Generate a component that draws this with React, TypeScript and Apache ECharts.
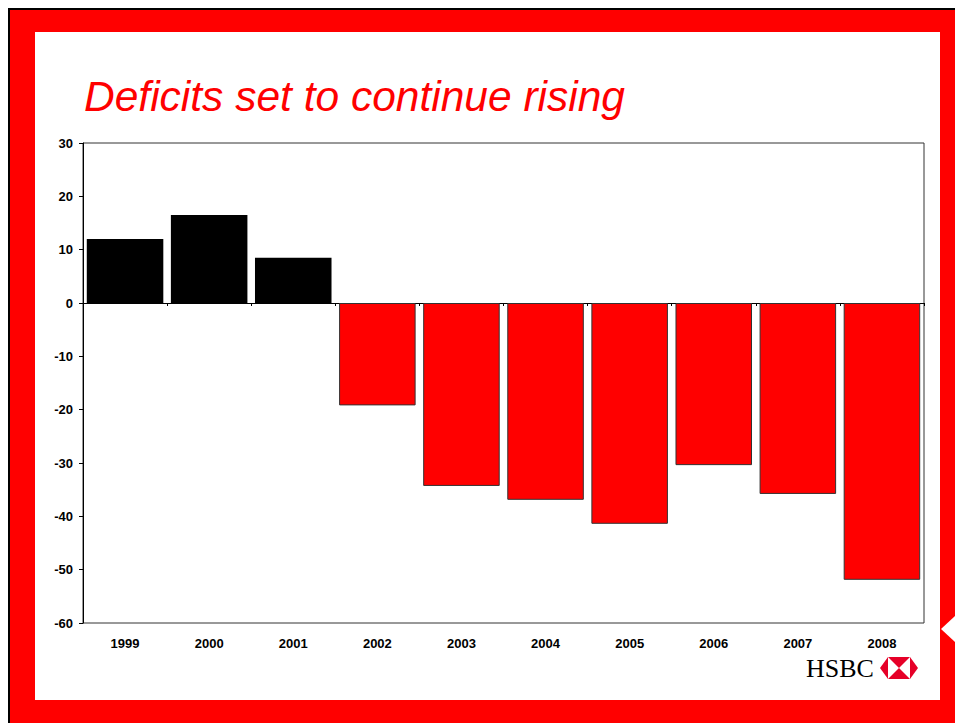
import React, { useEffect, useRef } from "react";
import * as echarts from "echarts";

const years = ["1999", "2000", "2001", "2002", "2003", "2004", "2005", "2006", "2007", "2008"];
const balance = [12.0, 16.5, 8.5, -19.2, -34.3, -36.9, -41.4, -30.4, -35.8, -51.9];
const yMin = -60;
const yMax = 30;
const yStep = 10;
const titleText = "Deficits set to continue rising";
const brandText = "HSBC";

const FONT = "'Liberation Sans', Arial, Helvetica, sans-serif";
const RED = "#ff0000";

export default function App() {
  const ref = useRef<HTMLDivElement>(null);
  useEffect(() => {
    if (!ref.current) return;
    const chart = echarts.init(ref.current, undefined, { renderer: "svg" });
    // HSBC hexagon geometry
    const hx = 880, hy = 657, hw = 38, hh = 22, tip = 8;
    const sqL = hx + tip, sqR = hx + hw - tip, cy = hy + hh / 2, cx = hx + hw / 2;
    const logoRed = "#e60028";
    chart.setOption({
      animation: false,
      backgroundColor: "#ffffff",
      grid: {
        left: 83,
        top: 143,
        right: 31,
        bottom: 100,
        show: true,
        borderColor: "#333333",
        borderWidth: 1,
        backgroundColor: "transparent",
        containLabel: false,
      },
      xAxis: [
        {
          type: "category",
          data: years,
          position: "bottom",
          axisLine: { show: false, onZero: false },
          axisTick: { show: false },
          axisLabel: {
            color: "#000",
            fontWeight: "bold",
            fontSize: 13,
            fontFamily: FONT,
            margin: 14,
          },
          splitLine: { show: false },
        },
        {
          type: "category",
          data: years,
          position: "bottom",
          axisLine: { show: true, onZero: true, lineStyle: { color: "#000", width: 1 } },
          axisTick: { show: true, length: 3, lineStyle: { color: "#000" } },
          axisLabel: { show: false },
          splitLine: { show: false },
        },
      ],
      yAxis: {
        type: "value",
        min: yMin,
        max: yMax,
        interval: yStep,
        axisLine: { show: true, lineStyle: { color: "#000", width: 1 } },
        axisTick: { show: true, length: 4, lineStyle: { color: "#000" } },
        axisLabel: {
          color: "#000",
          fontWeight: "bold",
          fontSize: 13,
          fontFamily: FONT,
          margin: 10,
        },
        splitLine: { show: false },
      },
      series: [
        {
          type: "bar",
          xAxisIndex: 0,
          barCategoryGap: "9%",
          data: balance.map((v) => ({
            value: v,
            itemStyle:
              v >= 0
                ? { color: "#000000", borderWidth: 0 }
                : { color: RED, borderColor: "#333333", borderWidth: 1 },
          })),
          z: 2,
        },
      ],
      graphic: {
        elements: [
          { type: "rect", z: -30, shape: { x: 8, y: 8, width: 947, height: 715 }, style: { fill: "#000" }, silent: true },
          { type: "rect", z: -29, shape: { x: 10, y: 10, width: 945, height: 713 }, style: { fill: RED }, silent: true },
          { type: "rect", z: -28, shape: { x: 35, y: 32, width: 905, height: 668 }, style: { fill: "#fff" }, silent: true },
          {
            type: "polygon",
            z: -27,
            shape: { points: [[941, 629], [955, 616], [955, 642]] },
            style: { fill: "#fff" },
            silent: true,
          },
          {
            type: "text",
            z: 10,
            x: 84,
            y: 96,
            style: {
              text: titleText,
              fill: RED,
              fontSize: 42.5,
              fontStyle: "italic",
              fontFamily: FONT,
              verticalAlign: "middle",
              align: "left",
            },
          },
          {
            type: "text",
            z: 10,
            x: 806,
            y: 668,
            style: {
              text: brandText,
              fill: "#000",
              fontSize: 26,
              fontFamily: "'Liberation Serif', 'Times New Roman', serif",
              verticalAlign: "middle",
              align: "left",
            },
          },
          // hexagon: red outer tips
          { type: "polygon", z: 10, shape: { points: [[hx, cy], [sqL, hy], [sqL, hy + hh]] }, style: { fill: logoRed } },
          { type: "polygon", z: 10, shape: { points: [[hx + hw, cy], [sqR, hy], [sqR, hy + hh]] }, style: { fill: logoRed } },
          // top and bottom red triangles in the square
          { type: "polygon", z: 10, shape: { points: [[sqL, hy], [sqR, hy], [cx, cy]] }, style: { fill: logoRed } },
          { type: "polygon", z: 10, shape: { points: [[sqL, hy + hh], [sqR, hy + hh], [cx, cy]] }, style: { fill: logoRed } },
        ],
      },
    });
    return () => chart.dispose();
  }, []);
  return (
    <div
      ref={ref}
      style={{ position: "absolute", left: 0, top: 0, width: 955, height: 723 }}
    />
  );
}
